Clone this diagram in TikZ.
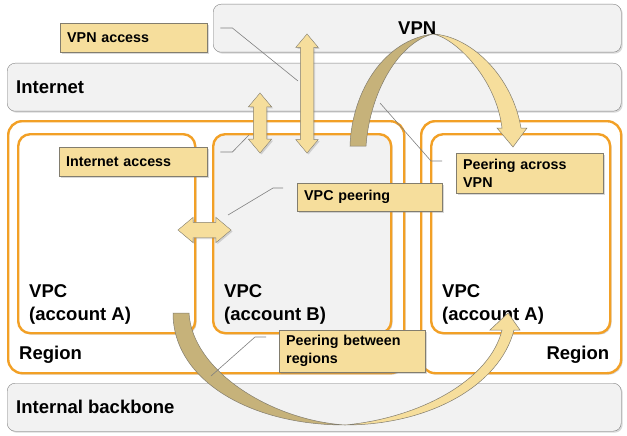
\documentclass[tikz,border=0pt]{standalone}
\usepackage{fontspec}
\setmainfont{Liberation Sans}
\usepackage{tikz}
\usetikzlibrary{positioning,shapes.arrows,shadows}

\definecolor{bargray}{RGB}{242,242,242}
\definecolor{edgegray}{RGB}{128,128,128}
\definecolor{regorange}{RGB}{242,160,38}
\definecolor{notefill}{RGB}{246,222,156}
\definecolor{noteedge}{RGB}{130,125,110}
\definecolor{arcdark}{RGB}{198,178,122}
\newcommand\lblfont{\fontsize{18.5}{23}\selectfont\bfseries}
\newcommand\notefont{\fontsize{14.3}{18}\selectfont\bfseries}

\begin{document}
\begin{tikzpicture}[x=1pt,y=-1pt,inner sep=0pt,
  dropsh/.style={drop shadow={opacity=.3,shadow xshift=1.5pt,shadow yshift=-1.5pt}},
  bar/.style={draw=edgegray,fill=bargray,rounded corners=8pt,anchor=north west,dropsh},
  region/.style={draw=regorange,line width=2.4pt,rounded corners=14pt,fill=white,anchor=north west,dropsh},
  vpc/.style={region,rounded corners=12pt},
  lbl/.style={font=\lblfont,align=left},
  note/.style={draw=noteedge,fill=notefill,font=\notefont,align=left,anchor=north west,inner xsep=7pt,dropsh},
  dbl/.style={double arrow,double arrow tip angle=80,draw=noteedge,fill=notefill,dropsh},
  arcl/.style={draw=noteedge,line width=.5pt},
  lead/.style={edgegray,line width=.6pt}]
\useasboundingbox (0,0) rectangle (627,436);

% bars
\node[bar,minimum width=408pt,minimum height=48pt] (vpn) at (213,4) {};
\node[bar,minimum width=614pt,minimum height=48pt] (inet) at (7,63) {};
\node[bar,minimum width=614pt,minimum height=48pt] (back) at (7,383) {};
\node[lbl,right=9pt of inet.west] (inetlbl) {Internet};
\node[lbl,right=9pt of back.west] (backlbl) {Internal backbone};

% regions and VPCs
\node[region,minimum width=396pt,minimum height=252pt] (rega) at (7,120) {};
\node[region,minimum width=200pt,minimum height=252pt] (regb) at (420,120) {};
\node[vpc,minimum width=177pt,minimum height=199pt] (vpca) at (17,133) {};
\node[vpc,fill=bargray,minimum width=178pt,minimum height=199pt] (vpcb) at (212,133) {};
\node[vpc,minimum width=179pt,minimum height=199pt] (vpcc) at (430,133) {};
\node[lbl,above right=11pt and 12pt of rega.south west] (regalbl) {Region};
\node[lbl,above left=11pt and 13pt of regb.south east] (regblbl) {Region};
\node[lbl,above right=10pt and 12pt of vpca.south west] (vpcalbl) {VPC\\(account A)};
\node[lbl,above right=10pt and 12pt of vpcb.south west] (vpcblbl) {VPC\\(account B)};
\node[lbl,above right=10pt and 12pt of vpcc.south west] (vpcclbl) {VPC\\(account A)};

% callouts
\node[note,text width=133pt,minimum height=29pt] (vpnacc) at (60,23) {VPN access};
\node[note,text width=134pt,minimum height=29pt] (inacc) at (59,147) {Internet access};
\node[note,text width=131pt,minimum height=28pt] (peer) at (297,183) {VPC peering};
\node[note,text width=133pt,minimum height=40pt] (across) at (456,153) {Peering across\\VPN};
\node[note,text width=132pt,minimum height=42pt] (between) at (279,330) {Peering between\\regions};

% block arrows
\node[dbl,rotate=90,minimum height=60pt,inner ysep=6.5pt,double arrow head extend=5pt] (inarr) at (260,123) {};
\node[dbl,rotate=90,minimum height=119pt,inner ysep=6.5pt,double arrow head extend=4.5pt] (vpnarr) at (307,93.5) {};
\node[dbl,minimum height=53pt,inner ysep=7.5pt,double arrow head extend=5pt] (peerarr) at (204.5,230) {};

% curved arrows
\draw[arcl,fill=arcdark] (350,146) .. controls (352,90) and (385,40) .. (433,34)
  .. controls (400,42) and (370,90) .. (366,146) -- cycle;
\draw[arcl,fill=notefill] (433,34) .. controls (470,36) and (512,75) .. (521,128)
  -- (527,128) -- (513,147) -- (497,128) -- (502,128)
  .. controls (496,78) and (455,38) .. (433,34) -- cycle;
\draw[arcl,fill=arcdark] (173,313) .. controls (173,380) and (250,425) .. (345,425)
  .. controls (270,420) and (192,370) .. (189,313) -- cycle;
\draw[arcl,fill=notefill] (345,425) .. controls (430,425) and (500,385) .. (514,330)
  -- (520,330) -- (508,313) -- (490,330) -- (502,330)
  .. controls (490,380) and (420,418) .. (345,425) -- cycle;
\node[lbl] (vpnlbl) at ([yshift=-18pt]vpn.north) [anchor=north] {VPN};

% leader lines
\coordinate (vpnpt) at (298,81);
\coordinate (inpt) at (249,135);
\coordinate (peerpt) at (228,215);
\coordinate (acrosspt) at (380,103);
\coordinate (betweenpt) at (211,376);
\draw[lead] ([shift={(13,5)}]vpnacc.north east) -- ++(12,0) -- (vpnpt);
\draw[lead] ([shift={(13,5)}]inacc.north east) -- ++(12,0) -- (inpt);
\draw[lead] ([shift={(-14,5)}]peer.north west) -- ++(-10,0) -- (peerpt);
\draw[lead] ([shift={(-14,8)}]across.north west) -- ++(-11,0) -- (acrosspt);
\draw[lead] ([shift={(-13,7)}]between.north west) -- ++(-11,0) -- (betweenpt);
\end{tikzpicture}
\end{document}
